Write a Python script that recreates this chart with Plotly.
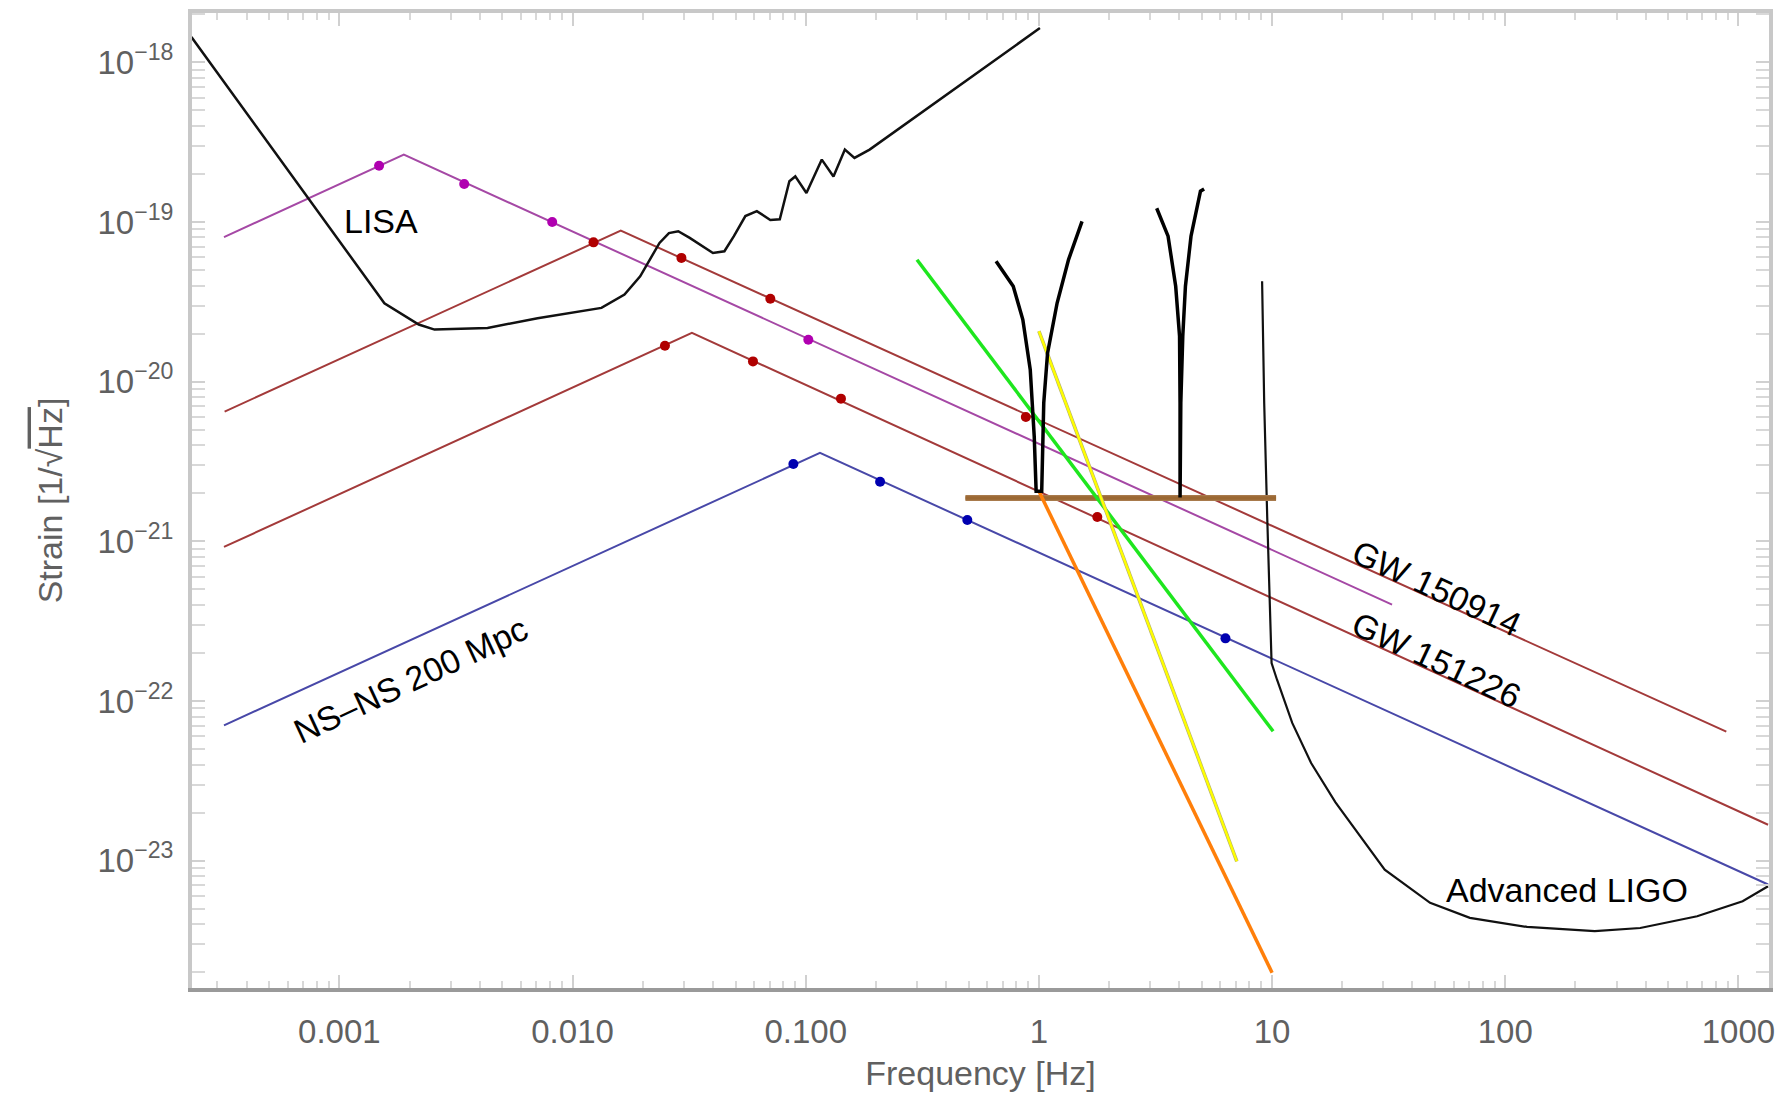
import math
import plotly.graph_objects as go

# ---------------- data (Hz, strain 1/sqrt(Hz)) ----------------
lisa_f = [2.32e-4, 1.56e-3, 2.19e-3, 2.56e-3, 4.32e-3, 7.08e-3, 1.33e-2, 1.67e-2, 1.95e-2,
          2.36e-2, 2.59e-2, 2.84e-2, 3.18e-2, 4.00e-2, 4.48e-2, 4.92e-2, 5.51e-2, 6.17e-2,
          7.05e-2, 7.74e-2, 8.51e-2, 9.02e-2, 0.1007, 0.1172, 0.1315, 0.1472, 0.1618, 0.1879, 1.01]
lisa_h = [1.44e-18, 3.10e-20, 2.28e-20, 2.12e-20, 2.17e-20, 2.50e-20, 2.90e-20, 3.51e-20, 4.57e-20,
          7.40e-20, 8.53e-20, 8.75e-20, 7.96e-20, 6.40e-20, 6.56e-20, 8.15e-20, 1.09e-19, 1.17e-19,
          1.03e-19, 1.04e-19, 1.80e-19, 1.93e-19, 1.52e-19, 2.46e-19, 1.93e-19, 2.84e-19, 2.52e-19, 2.84e-19, 1.64e-18]

ligo_f = [9.06, 9.25, 9.53, 9.95, 10.5, 12.2, 14.7, 18.7, 30.4, 47.6, 70.5, 124, 242, 379, 665, 1042, 1340]
ligo_h = [4.26e-20, 7.36e-21, 1.42e-21, 1.73e-22, 1.36e-22, 7.30e-23, 4.09e-23, 2.32e-23, 8.79e-24,
          5.45e-24, 4.39e-24, 3.85e-24, 3.62e-24, 3.79e-24, 4.49e-24, 5.57e-24, 6.92e-24]

# binary tracks (rise, peak, fall)
lisa_src_f = [3.20e-4, 1.89e-3, 32.7]
lisa_src_h = [8.05e-20, 2.64e-19, 4.02e-22]
lisa_src_dot_f = [1.48e-3, 3.43e-3, 8.18e-3, 0.1026]
lisa_src_dot_h = [2.25e-19, 1.73e-19, 1.00e-19, 1.83e-20]

gw150914_f = [3.22e-4, 1.61e-2, 887]
gw150914_h = [6.50e-21, 8.83e-20, 6.43e-23]
gw150914_dot_f = [1.23e-2, 2.93e-2, 7.05e-2, 0.879]
gw150914_dot_h = [7.46e-20, 5.96e-20, 3.31e-20, 6.01e-21]

gw151226_f = [3.20e-4, 3.25e-2, 1340]
gw151226_h = [9.23e-22, 2.02e-20, 1.68e-23]
gw151226_dot_f = [2.49e-2, 5.94e-2, 0.1416, 1.78]
gw151226_dot_h = [1.68e-20, 1.34e-20, 7.83e-21, 1.42e-21]

nsns_f = [3.20e-4, 0.1151, 1340]
nsns_h = [7.05e-23, 3.58e-21, 7.10e-24]
nsns_dot_f = [8.85e-2, 0.2084, 0.4932, 6.31]
nsns_dot_h = [3.05e-21, 2.36e-21, 1.36e-21, 2.47e-22]

green_f = [0.30, 10.1]
green_h = [5.81e-20, 6.47e-23]
yellow_f = [1.0, 7.06]
yellow_h = [2.07e-20, 9.91e-24]
orange_f = [1.0, 10.0]
orange_h = [2.06e-21, 1.99e-24]
bar_f = [0.484, 10.4]
bar_h = [1.87e-21, 1.87e-21]

notch1_f = [0.655, 0.776, 0.853, 0.918, 0.955, 0.973, 1.028, 1.040, 1.049, 1.089, 1.197, 1.340, 1.531]
notch1_h = [5.68e-20, 3.96e-20, 2.45e-20, 1.19e-20, 4.51e-21, 2.06e-21, 2.06e-21, 4.51e-21, 7.36e-21,
            1.51e-20, 3.11e-20, 5.82e-20, 1.01e-19]
notch2_f = [3.20, 3.58, 3.86, 4.01, 4.03, 4.03, 4.06, 4.14, 4.25, 4.49, 4.93, 5.11]
notch2_h = [1.22e-19, 8.15e-20, 3.96e-20, 1.93e-20, 7.38e-21, 1.88e-21, 7.38e-21, 1.93e-20, 3.96e-20,
            8.15e-20, 1.56e-19, 1.61e-19]

x_tickvals = [0.001, 0.01, 0.1, 1, 10, 100, 1000]
x_ticktext = ["0.001", "0.010", "0.100", "1", "10", "100", "1000"]
y_exps = [-18, -19, -20, -21, -22, -23]

labels = [
    dict(text="LISA", f=1.51e-3, h=1.02e-19, angle=0),
    dict(text="NS\u2013NS 200 Mpc", f=2.01e-3, h=1.36e-22, angle=-25),
    dict(text="GW 150914", f=50.7, h=5.11e-22, angle=25),
    dict(text="GW 151226", f=50.7, h=1.82e-22, angle=25),
    dict(text="Advanced LIGO", f=184, h=6.56e-24, angle=0),
]

# ---------------- figure ----------------
fig = go.Figure()

def line(x, y, color, width, name):
    fig.add_trace(go.Scatter(x=x, y=y, mode="lines", line=dict(color=color, width=width),
                             name=name, showlegend=False, hoverinfo="skip"))

def dots(x, y, color, name):
    fig.add_trace(go.Scatter(x=x, y=y, mode="markers", marker=dict(color=color, size=10),
                             name=name, showlegend=False, hoverinfo="skip"))

line(lisa_src_f, lisa_src_h, "#a548a5", 2, "LISA source")
line(gw150914_f, gw150914_h, "#a33a3a", 2, "GW150914")
line(gw151226_f, gw151226_h, "#a33a3a", 2, "GW151226")
line(nsns_f, nsns_h, "#4848a8", 2, "NS-NS")

line(lisa_f, lisa_h, "#111111", 2.5, "LISA")
line(ligo_f, ligo_h, "#111111", 2.2, "Advanced LIGO")

line(bar_f, bar_h, "#a87a4c", 6, "bar")
line(bar_f, bar_h, "#9b6833", 3.5, "bar core")
line(green_f, green_h, "#1ee61e", 3.5, "green")
line(yellow_f, yellow_h, "#b4b070", 3.6, "yellow edge")
line(yellow_f, yellow_h, "#ffff00", 2.4, "yellow")
line(orange_f, orange_h, "#ff7f0a", 3.5, "orange")
line(notch1_f, notch1_h, "#000000", 3.5, "notch1")
line(notch2_f, notch2_h, "#000000", 3.5, "notch2")

dots(lisa_src_dot_f, lisa_src_dot_h, "#b000b0", "LISA source pts")
dots(gw150914_dot_f, gw150914_dot_h, "#b00000", "GW150914 pts")
dots(gw151226_dot_f, gw151226_dot_h, "#b00000", "GW151226 pts")
dots(nsns_dot_f, nsns_dot_h, "#0000b0", "NS-NS pts")

# dummy trace for top axis
fig.add_trace(go.Scatter(x=[None], y=[None], xaxis="x2", showlegend=False, hoverinfo="skip"))

for lb in labels:
    fig.add_annotation(x=math.log10(lb["f"]), y=math.log10(lb["h"]),
                       text=lb["text"], showarrow=False, textangle=lb["angle"],
                       font=dict(family="Liberation Sans", size=34, color="#000000"),
                       xanchor="center", yanchor="middle")

xminor = [m * 10.0 ** e for e in range(-4, 4) for m in range(2, 10)]
yminor = [m * 10.0 ** e for e in range(-24, -17) for m in range(2, 10)]

xr = [-3.632, 3.131]
yr = [-23.797, -17.691]
tickfont = dict(family="Liberation Sans", size=33, color="#606060")
titlefont = dict(family="Liberation Sans", size=34, color="#606060")

fig.update_layout(
    width=1791, height=1093,
    margin=dict(l=184, r=30, t=5, b=113),
    paper_bgcolor="white", plot_bgcolor="white",
    showlegend=False,
    xaxis=dict(type="log", range=xr, showgrid=False, zeroline=False, automargin=False,
               tickmode="array", tickvals=x_tickvals, ticktext=x_ticktext,
               ticks="inside", ticklen=13, tickwidth=1.5, tickcolor="#d0d0d0",
               minor=dict(tickmode="array", tickvals=xminor, ticks="inside", ticklen=7,
                          tickwidth=1.5, tickcolor="#d8d8d8", showgrid=False),
               showline=True, linecolor="#9a9a9a", linewidth=3.5, mirror=False,
               tickfont=tickfont, ticklabelstandoff=12,
               title=dict(text="Frequency [Hz]", font=titlefont, standoff=13)),
    xaxis2=dict(type="log", range=xr, overlaying="x", side="top", showgrid=False, zeroline=False,
                automargin=False,
                tickmode="array", tickvals=x_tickvals, showticklabels=False,
                ticks="inside", ticklen=13, tickwidth=1.5, tickcolor="#d0d0d0",
                minor=dict(tickmode="array", tickvals=xminor, ticks="inside", ticklen=7,
                           tickwidth=1.5, tickcolor="#d8d8d8", showgrid=False),
                showline=True, linecolor="#c8c8c8", linewidth=4),
    yaxis=dict(type="log", range=yr, showgrid=False, zeroline=False, automargin=False,
               tickmode="array", tickvals=[10.0 ** e for e in y_exps],
               ticktext=["10<sup>\u2212%d</sup>" % (-e) for e in y_exps],
               ticks="inside", ticklen=13, tickwidth=1.5, tickcolor="#d0d0d0",
               minor=dict(tickmode="array", tickvals=yminor, ticks="inside", ticklen=7,
                          tickwidth=1.5, tickcolor="#d8d8d8", showgrid=False),
               showline=True, linecolor="#c8c8c8", linewidth=4, mirror="allticks",
               tickfont=tickfont, ticklabelstandoff=8,
               title=dict(text="Strain [1/\u221a<span style='text-decoration:overline'>Hz</span>]",
                          font=titlefont, standoff=26)),
)

fig.write_html("out.html")
